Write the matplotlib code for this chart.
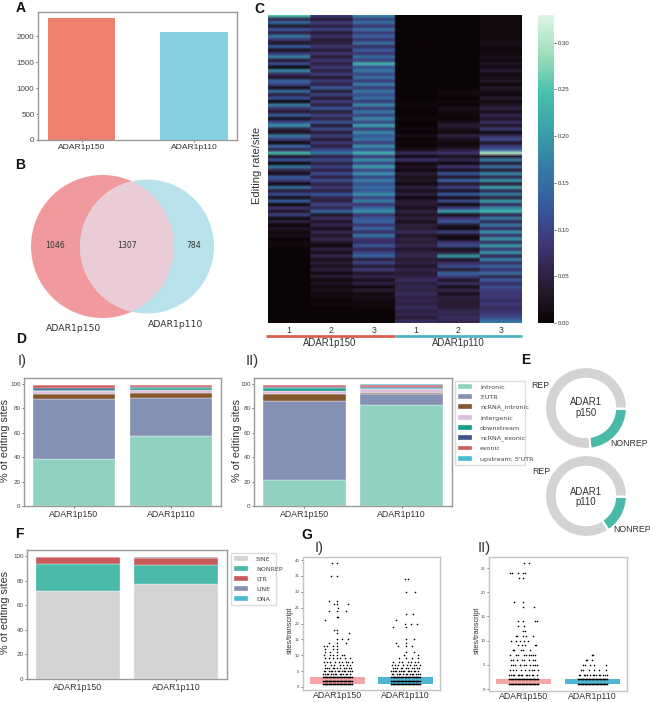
from matplotlib import pyplot as plt
from matplotlib.colors import LinearSegmentedColormap
from matplotlib.patches import Circle
import numpy as np

W, H = 650, 702
plt.rcParams['font.family'] = ['Liberation Sans', 'DejaVu Sans']

groups = ['ADAR1p150', 'ADAR1p110']
total_sites = [2353, 2091]
venn_counts = [1046, 1307, 784]

region_labels = ['intronic', "3'UTR", 'ncRNA_intronic', 'intergenic', 'downstream',
                 'ncRNA_exonic', 'exonic', 'upstream; 5\'UTR']
region_colors = ['#91d1c2', '#8491b4', '#84582c', '#dcbfdc', '#12a088', '#3c5488', '#cc5f5f', '#4dbbd5']
region_i_p150 = [38.5, 49.0, 4.0, 2.5, 1.5, 1.5, 2.3, 0.2]
region_i_p110 = [57.5, 31.5, 4.0, 2.3, 1.5, 1.0, 1.5, 0.2]
region_ii_p150 = [21.0, 65.5, 5.5, 2.0, 2.5, 1.2, 1.6, 0.2]
region_ii_p110 = [82.5, 9.0, 1.5, 3.0, 0.5, 1.2, 1.8, 0.3]

rep_labels = ['SINE', 'NONREP', 'LTR', 'LINE', 'DNA']
rep_colors = ['#d3d3d3', '#48baa7', '#c85a5a', '#8491b4', '#4dbbd5']
rep_p150 = [72.0, 22.0, 5.0, 0.4, 0.2]
rep_p110 = [77.5, 15.0, 6.0, 0.5, 0.3]

donut_p150 = [23, 77]
donut_p110 = [15.5, 84.5]

# editing rate in hundredths, one row per block of sites
heat_rows = [
    [25, 9, 18, 0, 0, 1], [6, 4, 10, 0, 0, 1], [14, 9, 15, 0, 0, 1], [3, 5, 8, 0, 0, 1],
    [12, 10, 15, 0, 0, 1], [5, 4, 9, 0, 0, 1], [16, 8, 14, 0, 0, 1], [8, 4, 8, 0, 0, 1],
    [3, 5, 15, 0, 0, 2], [13, 8, 7, 0, 0, 1], [2, 4, 13, 0, 0, 1], [9, 8, 8, 0, 0, 1],
    [17, 4, 15, 0, 0, 2], [4, 8, 9, 0, 0, 1], [11, 5, 23, 0, 0, 3], [1, 9, 11, 0, 0, 1],
    [18, 5, 16, 0, 0, 4], [7, 9, 10, 0, 0, 1], [3, 4, 15, 0, 0, 2], [14, 9, 9, 0, 0, 3],
    [10, 5, 17, 0, 0, 1], [2, 13, 9, 0, 0, 3], [15, 4, 16, 0, 1, 2], [5, 10, 11, 0, 1, 1],
    [12, 4, 15, 0, 0, 4], [1, 9, 9, 0, 1, 1], [17, 5, 18, 1, 0, 3], [8, 12, 9, 0, 2, 5],
    [4, 4, 16, 0, 1, 2], [13, 10, 10, 0, 1, 6], [2, 5, 18, 1, 0, 3], [11, 12, 10, 0, 2, 7],
    [19, 4, 21, 0, 4, 3], [5, 11, 9, 1, 2, 9], [3, 4, 18, 0, 1, 1], [16, 10, 12, 2, 5, 7],
    [9, 4, 16, 0, 2, 11], [1, 9, 9, 1, 1, 3], [14, 5, 19, 0, 1, 9], [6, 10, 11, 2, 4, 13],
    [24, 16, 23, 7, 8, 30], [3, 5, 9, 1, 2, 4], [12, 11, 19, 8, 6, 17], [1, 5, 10, 1, 1, 4],
    [16, 10, 21, 3, 8, 15], [6, 5, 10, 1, 2, 4], [2, 11, 19, 4, 12, 18], [13, 5, 10, 2, 3, 6],
    [9, 11, 17, 3, 13, 19], [1, 5, 11, 1, 3, 4], [15, 9, 15, 5, 10, 21], [4, 5, 12, 2, 2, 6],
    [11, 12, 19, 5, 13, 17], [2, 6, 10, 1, 2, 5], [13, 5, 17, 4, 11, 20], [1, 10, 8, 4, 1, 7],
    [8, 6, 14, 2, 9, 18], [3, 14, 19, 5, 20, 23], [10, 3, 8, 3, 2, 6], [1, 7, 12, 5, 8, 17],
    [5, 3, 14, 2, 12, 6], [0, 6, 8, 5, 3, 16], [3, 2, 14, 4, 1, 7], [1, 6, 7, 7, 10, 19],
    [2, 3, 16, 3, 2, 8], [0, 6, 8, 5, 1, 20], [1, 3, 7, 4, 8, 7], [1, 1, 12, 6, 11, 20],
    [0, 5, 6, 3, 2, 8], [0, 2, 10, 5, 5, 19], [0, 6, 14, 6, 20, 6], [0, 2, 5, 4, 3, 17],
    [0, 4, 10, 5, 7, 7], [0, 2, 4, 3, 11, 14], [0, 5, 9, 6, 4, 8], [0, 1, 3, 4, 14, 15],
    [0, 4, 6, 5, 9, 6], [0, 1, 2, 7, 3, 13], [0, 3, 5, 5, 7, 7], [0, 1, 1, 6, 2, 11],
    [0, 2, 4, 5, 6, 9], [0, 1, 1, 7, 2, 8], [0, 1, 2, 5, 5, 9], [0, 0, 1, 6, 4, 7],
    [0, 1, 1, 5, 4, 9], [0, 0, 1, 7, 4, 7], [0, 0, 0, 5, 6, 8], [0, 0, 0, 6, 6, 9],
    [0, 0, 0, 4, 7, 11], [0, 0, 0, 7, 6, 16],
]
heat_ticks = [0.00, 0.05, 0.10, 0.15, 0.20, 0.25, 0.30]
sample_labels = ['1', '2', '3', '1', '2', '3']

dense_row = [-.21, -.19, -.17, -.15, -.13, -.11, -.09, -.07, -.05, -.03, -.01, .01, .03, .05, .07, .09, .11, .13, .15, .17, .19, .21]
row_a = [-.21, -.19, -.16, -.14, -.09, -.07, -.04, -.02, .03, .05, .08, .12, .14, .19]
row_b = [-.2, -.18, -.12, -.1, -.08, -.03, .01, .02, .06, .1, .11, .16, .18, .21]
row_c = [-.19, -.15, -.13, -.06, -.05, .0, .04, .09, .13, .17, .2]
row_d = [-.2, -.16, -.11, -.04, .02, .07, .12, .15, .21]
row_e = [-.18, -.09, -.05, .03, .08, .14, .19]

# transcripts per level: {sites/transcript: x offsets}
strip_i_p150 = {
    39: [-.08, 0], 35: [-.09, 0], 27: [-.13, 0], 26: [-.05, 0, .16], 25: [.01], 24: [-.13, 0, .13],
    22: [-.01, .01], 21: [-.19], 18: [-.05, 0], 17: [0, .17], 15: [0, .06, .16], 14: [-.13, 0, .13],
    13: [-.2, -.15, -.07, 0], 12: [-.19, -.07, 0], 11: [-.18, -.11, 0], 10: [-.2, -.11, -.06, -.01, .06, .09],
    9: [-.18, -.13, -.06, -.01, .04, .11, .18], 8: row_d, 7: row_e, 6: row_c, 5: row_b,
    4: row_a, 3: dense_row, 2: dense_row, 1: dense_row,
}
strip_i_p110 = {
    34: [-.01, .03], 30: [0, .14], 23: [0, .11], 21: [-.14], 20: [-.01, .08, .17], 19: [-.18, 0],
    15: [0, .13], 14: [-.14, 0], 13: [-.11, 0, .09], 11: [0, .12], 10: [-.02, .18], 9: [-.09, .01, .1, .19],
    8: row_e, 7: row_d, 6: row_c, 5: row_a, 4: row_b, 3: dense_row, 2: dense_row, 1: dense_row,
}
strip_ii_p150 = {
    26: [.0, .07], 24: [-.2, -.17, -.08, -.01, .02], 23: [-.07, -.01], 18: [-.14, -.01], 17: [-.01, .15],
    14: [-.08, -.01, .17, .19], 13: [-.09, .01], 12: [-.01, .02], 11: [-.12, -.1, -.01, .04, .14],
    10: [-.19, -.11, -.06, 0, .06], 9: [-.09, -.03, .02, .16, .18], 8: [-.16, -.14, -.04, -.01, .09],
    7: [-.2, -.11, -.08, 0, .03, .07, .1, .14, .17], 6: [-.19, -.15, -.1, -.02, .01, .08, .13, .17],
    5: row_c, 4: row_d, 3: row_a, 2: dense_row, 1: dense_row,
}
strip_ii_p110 = {
    7: [-.01, .01], 6: [-.09, -.07, 0], 5: [-.14, -.11, -.03, .02, .2], 4: [-.16, -.13, -.05, .02, .1, .2],
    3: row_b, 2: dense_row, 1: dense_row,
}
box_i_limits = [1, 3]
box_ii_limits = [1, 2.1]
box_colors = ['#f4a6a6', '#4fb6d2']
strip_i_ticks = [0, 5, 10, 15, 20, 25, 30, 35, 40]
strip_ii_ticks = [0, 5, 10, 15, 20, 25]

mako = LinearSegmentedColormap.from_list(
    'mako_like', ['#0b0405', '#2b1c35', '#3e3572', '#38589c', '#357ba3', '#3aa0aa', '#49c1ad', '#a0dfb9', '#def5e5'])


def px_axes(left, top, right, bottom, **kw):
    return fig.add_axes([left / W, 1 - bottom / H, (right - left) / W, (bottom - top) / H], **kw)


def style(ax, tick_size, label_size=6.3):
    for s in ax.spines.values():
        s.set_color('#9a9a9a')
        s.set_linewidth(1.0)
    ax.tick_params(axis='y', labelsize=tick_size, colors='#444444', length=1.5, width=0.5, pad=1)
    ax.tick_params(axis='x', labelsize=label_size, colors='#333333', length=1.5, width=0.5, pad=1.5)


def stacked(ax, first, second, colors, labels, label_x, label_y):
    bottoms = [0, 0]
    for i in range(len(labels)):
        ax.bar([0, 1], [first[i], second[i]], 0.85, bottom=bottoms, color=colors[i],
               edgecolor='white', linewidth=0.25, label=labels[i])
        bottoms = [bottoms[0] + first[i], bottoms[1] + second[i]]
    ax.set_xticks([0, 1], groups)
    ax.set_xlim(-0.515, 1.515)
    ax.set_ylim(0, 105)
    ax.set_yticks([0, 20, 40, 60, 80, 100])
    style(ax, 4.5)
    over.text(label_x, label_y, '% of editing sites', rotation=90, ha='center', va='center',
              fontsize=7.8, color='#333333')


def legend(ax, x0, y0, x1, y1):
    ax.legend(loc='upper left', bbox_to_anchor=(x0, y0, x1 - x0, y1 - y0), bbox_transform=over.transData,
              mode='expand', prop={'family': 'DejaVu Sans', 'size': 4.6}, labelcolor='#444444', frameon=True,
              borderaxespad=0, borderpad=0.5, labelspacing=0.72, handlelength=2.2, handletextpad=1.2,
              edgecolor='#dddddd', fancybox=False, framealpha=1)


def strip(ax, data_a, data_b, limits, ticks, label_x, label_y):
    for pos, data in enumerate([data_a, data_b]):
        ax.bar(pos, limits[1] - limits[0], 0.81, bottom=limits[0], color=box_colors[pos], zorder=1)
        xs, ys = [], []
        for level, offsets in data.items():
            xs += [pos + o for o in offsets]
            ys += [level] * len(offsets)
        ax.scatter(xs, ys, s=1.3, color='black', linewidths=0, zorder=2)
        for lv in data:
            if lv <= limits[1]:
                ax.plot([pos - 0.21, pos + 0.21], [lv, lv], color='black', lw=0.9, zorder=2)
    ax.set_xticks([0, 1], groups)
    ax.set_xlim(-0.507, 1.507)
    ax.set_yticks(ticks)
    style(ax, 3.2)
    ax.tick_params(axis='x', length=0.5, pad=0.3)
    for s in ax.spines.values():
        s.set_color('#c4c4c4')
    over.text(label_x, label_y, 'sites/transcript', rotation=90, ha='center', va='center',
              fontsize=5.3, color='#333333')


fig = plt.figure(figsize=(W / 100, H / 100), dpi=100)

over = fig.add_axes([0, 0, 1, 1], zorder=10)
over.set_xlim(0, W)
over.set_ylim(H, 0)
over.axis('off')

# A
ax = px_axes(38, 12, 237, 140)
ax.bar([0, 1], total_sites, 0.6, color=['#ef8070', '#84cfe2'])
ax.set_xticks([0, 1], groups)
ax.set_xlim(-0.387, 1.382)
ax.set_ylim(0, 2468)
ax.set_yticks([0, 500, 1000, 1500, 2000])
style(ax, 5.8, 6.1)

# B
left = Circle((102.5, 246.5), 71.5, color='#f09a9d', lw=0)
right = Circle((147, 246.5), 67, color='#b9e3ec', lw=0)
both = Circle((102.5, 246.5), 71.5, color='#eaccd7', lw=0)
over.add_patch(left)
over.add_patch(right)
over.add_patch(both)
both.set_clip_path(Circle((147, 246.5), 67, transform=over.transData))
for x, n in zip([55, 127, 194], venn_counts):
    over.text(x, 246, str(n), ha='center', va='center', fontsize=5.6, family='DejaVu Sans', color='#333333')
over.text(73.5, 328.5, groups[0], ha='center', va='center', fontsize=6.7, family='DejaVu Sans', color='#333333')
over.text(175.5, 324.5, groups[1], ha='center', va='center', fontsize=6.7, family='DejaVu Sans', color='#333333')

# C
ax = px_axes(268, 14.7, 522, 323)
heat = np.repeat(np.array(heat_rows) / 100, 30, axis=1)
im = ax.imshow(heat, aspect='auto', cmap=mako, vmin=0, vmax=0.33, interpolation='bilinear',
               interpolation_stage='rgba', extent=[-0.5, 5.5, len(heat_rows) - 0.5, -0.5])
ax.set_xticks(range(6), sample_labels)
ax.set_yticks([])
ax.tick_params(axis='x', length=0, labelsize=6.3, labelcolor='#333333', pad=2)
for s in ax.spines.values():
    s.set_visible(False)
cax = px_axes(538.3, 14.7, 554, 323)
cbar = fig.colorbar(im, cax=cax)
cbar.set_ticks(heat_ticks, labels=['%.2f' % t for t in heat_ticks])
cbar.ax.tick_params(labelsize=4.3, length=1.5, width=0.5, colors='#333333', pad=1)
cbar.outline.set_visible(False)
over.text(257, 165, 'Editing rate/site', rotation=90, ha='center', va='center', fontsize=8.0, color='#333333')
over.plot([266, 395], [336, 336], color='#d95f4b', lw=2, solid_capstyle='butt')
over.plot([395, 522], [336, 336], color='#4fb6c6', lw=2, solid_capstyle='butt')
over.text(330, 343.5, groups[0], ha='center', va='center', fontsize=6.9, color='#333333')
over.text(458, 343.5, groups[1], ha='center', va='center', fontsize=6.9, color='#333333')

# D
ax = px_axes(24, 378, 221, 506)
stacked(ax, region_i_p150, region_i_p110, region_colors, region_labels, 5.5, 440)
ax = px_axes(254, 378, 452, 506)
stacked(ax, region_ii_p150, region_ii_p110, region_colors, region_labels, 237, 440)
legend(ax, 455, 381, 525, 452)

# E
for cy, vals, name, rep_xy, non_xy, ty in [
        (408, donut_p150, 'p150', (540, 385), (629, 444), (402, 413)),
        (496, donut_p110, 'p110', (541, 471), (632, 529), (492, 502))]:
    ax = px_axes(545, cy - 41, 627, cy + 41)
    ax.pie(vals, colors=['#48baa7', '#d3d3d3'], startangle=-1, counterclock=False, radius=1,
           wedgeprops={'width': 0.29, 'edgecolor': 'white', 'linewidth': 1.6})
    ax.set_xlim(-1, 1)
    ax.set_ylim(-1, 1)
    over.text(rep_xy[0], rep_xy[1], 'REP', ha='center', va='center', fontsize=6.3, color='#333333')
    over.text(non_xy[0], non_xy[1], 'NONREP', ha='center', va='center', fontsize=6.3, color='#333333')
    over.text(586, ty[0], 'ADAR1', ha='center', va='center', fontsize=6.9, color='#333333')
    over.text(586, ty[1], name, ha='center', va='center', fontsize=6.9, color='#333333')

# F
ax = px_axes(27, 550, 227, 679)
stacked(ax, rep_p150, rep_p110, rep_colors, rep_labels, 5.5, 612)
legend(ax, 231, 553, 276, 598)

# G
ax = px_axes(303, 557, 440, 690)
strip(ax, strip_i_p150, strip_i_p110, box_i_limits, strip_i_ticks, 290, 630)
ax.set_ylim(-0.95, 40.95)
ax = px_axes(489, 557, 627, 691)
strip(ax, strip_ii_p150, strip_ii_p110, box_ii_limits, strip_ii_ticks, 477, 630)
ax.set_ylim(-0.41, 27.3)

# panel letters
for letter, x, y in [('A', 21, 8), ('B', 20, 165), ('C', 259, 9), ('D', 21, 339), ('E', 526, 360),
                     ('F', 19, 534), ('G', 307, 535)]:
    over.text(x, y, letter, ha='center', va='center', fontsize=10, fontweight='bold', color='#111111')
for txt, x, y in [('I)', 22, 361), ('II)', 252, 361), ('I)', 319, 548), ('II)', 484, 548)]:
    over.text(x, y, txt, ha='center', va='center', fontsize=10.5, color='#333333')

fig.savefig('out.png', dpi=100)
